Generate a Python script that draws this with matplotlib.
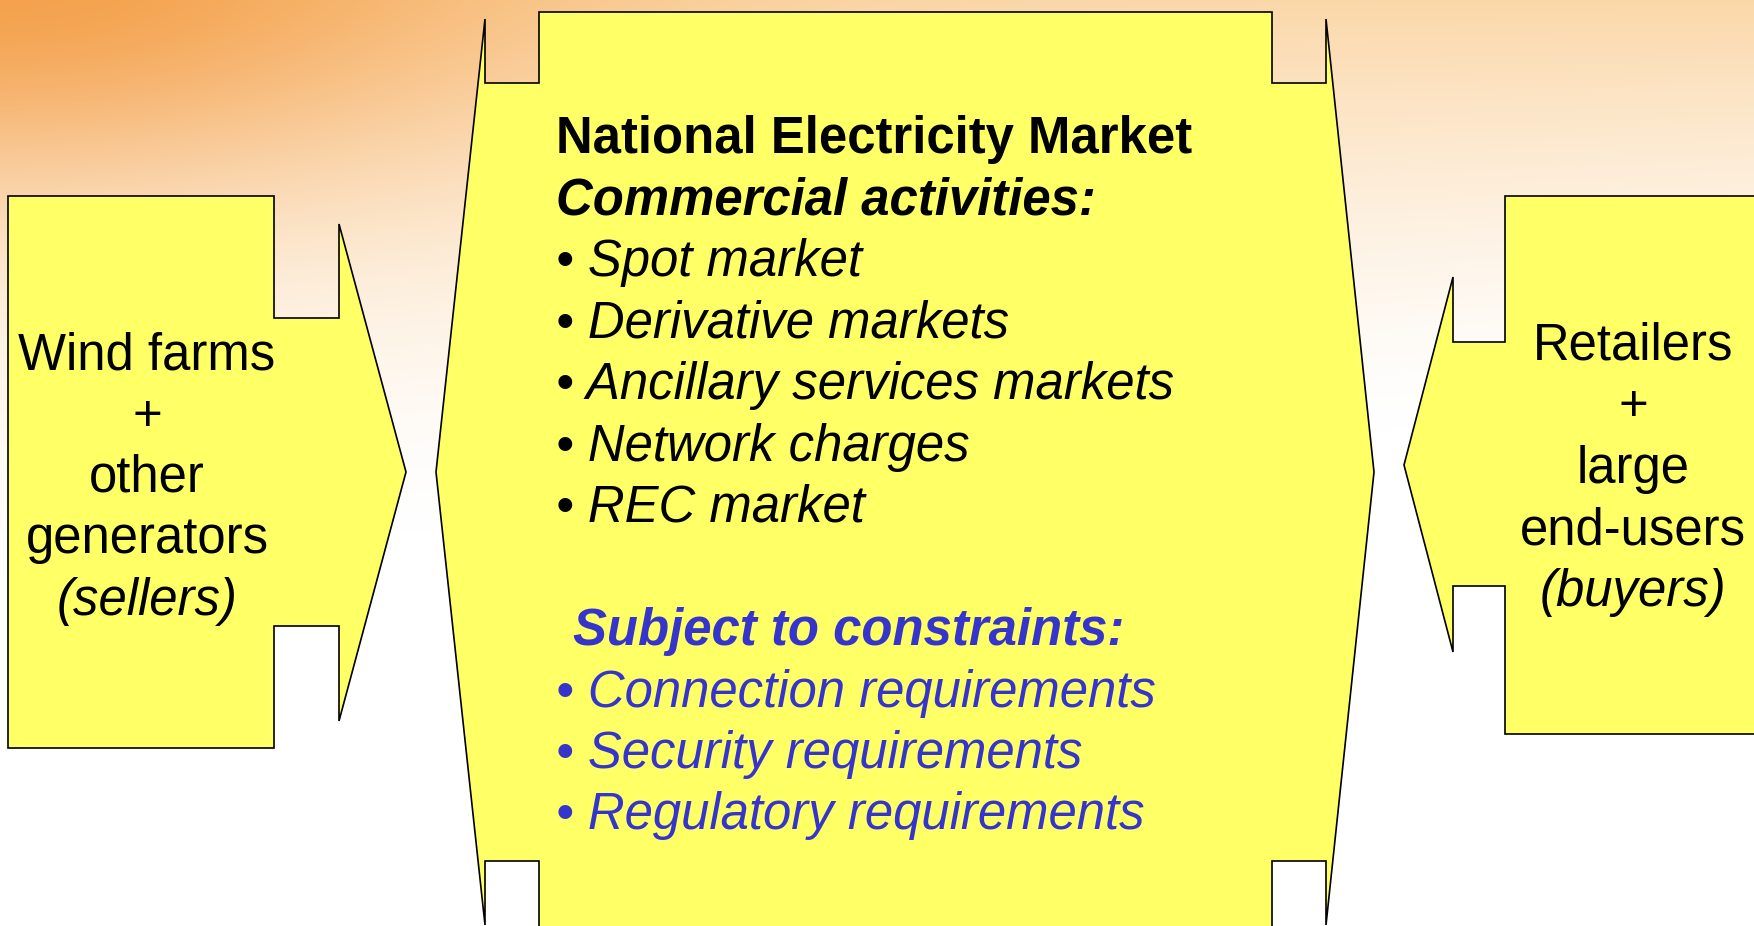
import matplotlib
matplotlib.use("Agg")
import matplotlib.pyplot as plt
import numpy as np
from matplotlib.patches import Polygon

W, H = 1754, 926

# Text content
left_lines = ["Wind farms", "+", "other", "generators", "(sellers)"]
left_styles = ["normal", "normal", "normal", "normal", "italic"]
right_lines = ["Retailers", "+", "large", "end-users", "(buyers)"]
right_styles = ["normal", "normal", "normal", "normal", "italic"]

title_lines = ["National Electricity Market", "Commercial activities:"]
title_styles = ["normal", "italic"]
activities = ["Spot market", "Derivative markets", "Ancillary services markets",
              "Network charges", "REC market"]
constraint_title = "Subject to constraints:"
constraints = ["Connection requirements", "Security requirements",
               "Regulatory requirements"]

# Shape geometry (pixels)
left_box = dict(x0=8, x1=274, top=196, bottom=748, notch_x=339,
                notch_top=318, notch_bot=626, arrow_top=224, arrow_bot=721, tip=406)
mid_box = dict(x0=539, x1=1272, top=12, notch_y=83, outer_l=485, outer_r=1326,
               arrow_top=19, tip_l=436, tip_r=1374, cy=472)
right_box = dict(x0=1505, x1=1770, top=196, bottom=734, notch_x=1453,
                 notch_top=342, notch_bot=586, arrow_top=277, arrow_bot=652, tip=1404)

yellow = "#FFFF66"
blue = "#3535CC"
font = "Liberation Sans"
fs = 36.6
line_h = 61.5

fig = plt.figure(figsize=(W / 100, H / 100), dpi=100)
ax = fig.add_axes([0, 0, 1, 1])
ax.set_xlim(0, W)
ax.set_ylim(H, 0)
ax.axis("off")

# Background: peach wash at the top, orange glow in the top-left corner
xx, yy = np.meshgrid(np.linspace(0, 1, 400), np.linspace(0, 1, 220))
orange = np.array([244, 158, 70]) / 255
peach = np.array([251, 216, 170]) / 255
white = np.array([255, 255, 255]) / 255
blob = np.exp(-(xx / 0.3) ** 2 - ((yy - 0.06) / 0.22) ** 2)
top_col = peach[None, None, :] * (1 - blob[..., None]) + orange[None, None, :] * blob[..., None]
depth = 0.62 - 0.2 * xx
wgt = np.clip(1 - yy / depth, 0, 1) ** 1.4
bg = white - (white - top_col) * wgt[..., None]
ax.imshow(bg, extent=(0, W, H, 0), aspect="auto", zorder=0, interpolation="bilinear")


def arrow_right(b):
    cy = (b["top"] + b["bottom"]) / 2
    return [(b["x0"], b["top"]), (b["x1"], b["top"]), (b["x1"], b["notch_top"]),
            (b["notch_x"], b["notch_top"]), (b["notch_x"], b["arrow_top"]),
            (b["tip"], cy), (b["notch_x"], b["arrow_bot"]),
            (b["notch_x"], b["notch_bot"]), (b["x1"], b["notch_bot"]),
            (b["x1"], b["bottom"]), (b["x0"], b["bottom"])]


def arrow_left(b):
    cy = (b["top"] + b["bottom"]) / 2
    return [(b["x1"], b["top"]), (b["x0"], b["top"]), (b["x0"], b["notch_top"]),
            (b["notch_x"], b["notch_top"]), (b["notch_x"], b["arrow_top"]),
            (b["tip"], cy), (b["notch_x"], b["arrow_bot"]),
            (b["notch_x"], b["notch_bot"]), (b["x0"], b["notch_bot"]),
            (b["x0"], b["bottom"]), (b["x1"], b["bottom"])]


def double_arrow(b):
    cy = b["cy"]
    m = lambda y: 2 * cy - y
    return [(b["x0"], b["top"]), (b["x1"], b["top"]), (b["x1"], b["notch_y"]),
            (b["outer_r"], b["notch_y"]), (b["outer_r"], b["arrow_top"]),
            (b["tip_r"], cy), (b["outer_r"], m(b["arrow_top"])),
            (b["outer_r"], m(b["notch_y"])), (b["x1"], m(b["notch_y"])),
            (b["x1"], m(b["top"])), (b["x0"], m(b["top"])),
            (b["x0"], m(b["notch_y"])), (b["outer_l"], m(b["notch_y"])),
            (b["outer_l"], m(b["arrow_top"])), (b["tip_l"], cy),
            (b["outer_l"], b["arrow_top"]), (b["outer_l"], b["notch_y"]),
            (b["x0"], b["notch_y"])]


for verts in [arrow_right(left_box), double_arrow(mid_box), arrow_left(right_box)]:
    ax.add_patch(Polygon(verts, closed=True, facecolor=yellow, edgecolor="black",
                         linewidth=1.2, zorder=2, joinstyle="miter"))

# Left box text
for i, (s, st) in enumerate(zip(left_lines, left_styles)):
    ax.text(147, 369 + i * line_h, s, ha="center", va="baseline", fontsize=fs,
            family=font, style=st, zorder=3)

# Right box text
for i, (s, st) in enumerate(zip(right_lines, right_styles)):
    ax.text(1633, 360 + i * line_h, s, ha="center", va="baseline", fontsize=fs,
            family=font, style=st, zorder=3)

# Central text
x_txt = 556
y0 = 153
for i, (s, st) in enumerate(zip(title_lines, title_styles)):
    ax.text(x_txt, y0 + i * line_h, s, ha="left", va="baseline", fontsize=fs,
            family=font, weight="bold", style=st, zorder=3)
for i, s in enumerate(activities):
    ax.text(x_txt, y0 + (i + 2) * line_h, "\u2022 " + s, ha="left", va="baseline",
            fontsize=fs, family=font, style="italic", zorder=3)
yc = y0 + 8 * line_h
ax.text(573, yc, constraint_title, ha="left", va="baseline", fontsize=fs,
        family=font, weight="bold", style="italic", color=blue, zorder=3)
for i, s in enumerate(constraints):
    ax.text(x_txt, yc + (i + 1) * line_h, "\u2022 " + s, ha="left", va="baseline",
            fontsize=fs, family=font, style="italic", color=blue, zorder=3)

fig.savefig("out.png", dpi=100)
